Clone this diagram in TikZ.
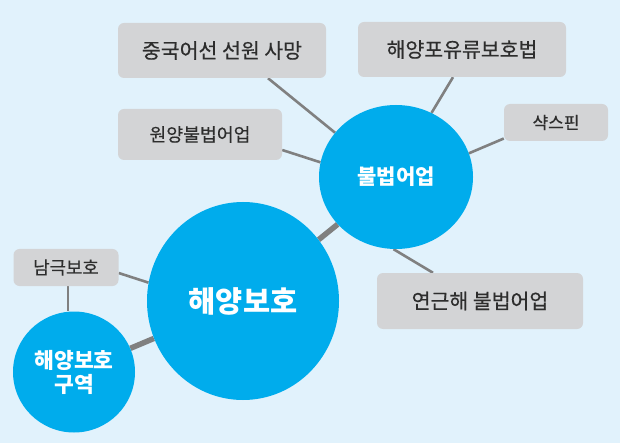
\documentclass[tikz,border=0pt]{standalone}
\usepackage{fontspec}
\setmainfont{Noto Sans CJK KR}
\newfontfamily\boxfont{Noto Sans CJK KR}[FakeBold=0.4]
\usetikzlibrary{shapes.geometric, backgrounds}
\definecolor{seabg}{RGB}{225,242,252}
\definecolor{boxgray}{RGB}{211,212,214}
\definecolor{bubble}{RGB}{0,172,236}
\definecolor{linkgray}{RGB}{128,128,128}
\definecolor{txtgray}{RGB}{45,45,45}
\begin{document}
\begin{tikzpicture}[x=1pt, y=-1pt,
  topic/.style={fill=boxgray, rounded corners=6pt, text=txtgray, inner sep=0pt},
  hub/.style={ellipse, fill=bubble, text=white, inner sep=0pt, font=\bfseries},
  link/.style={draw=linkgray, line width=2.6pt},
  trunk/.style={draw=linkgray, line width=5.5pt}]
  \useasboundingbox (0,0) rectangle (620,443);
  % circles
  \node[hub, minimum width=192pt, minimum height=198pt, font=\bfseries\fontsize{29.5}{32}\selectfont] (ocean) at (243,301) {해양보호};
  \node[hub, minimum width=154pt, minimum height=144pt, font=\bfseries\fontsize{21}{24}\selectfont] (illegal) at (396,177) {불법어업};
  \node[hub, minimum width=122pt, minimum height=121pt, align=center, font=\bfseries\fontsize{21.5}{24}\selectfont] (zone) at (74,372) {해양보호\\구역};
  % grey boxes
  \node[topic, minimum width=208pt, minimum height=55pt, font=\boxfont\fontsize{20.5}{24}\selectfont] (crew) at (222,50.5) {중국어선 선원 사망};
  \node[topic, minimum width=208pt, minimum height=55pt, font=\boxfont\fontsize{20.5}{24}\selectfont] (mammal) at (462,49.5) {해양포유류보호법};
  \node[topic, minimum width=164pt, minimum height=51pt, font=\boxfont\fontsize{18.3}{22}\selectfont] (farsea) at (200,134.5) {원양불법어업};
  \node[topic, minimum width=104pt, minimum height=37pt, font=\boxfont\fontsize{17}{20}\selectfont] (shark) at (556,122.5) {샥스핀};
  \node[topic, minimum width=206pt, minimum height=56pt, font=\boxfont\fontsize{20.5}{24}\selectfont] (coast) at (480,301) {연근해 불법어업};
  \node[topic, minimum width=105pt, minimum height=37pt, font=\boxfont\fontsize{17.8}{21}\selectfont] (antarctic) at (66,267.5) {남극보호};
  % connectors
  \begin{scope}[on background layer]
    \fill[seabg] (0,0) rectangle (620,443);
    \draw[trunk] (ocean) -- (illegal);
    \draw[trunk] (ocean) -- (zone);
    \draw[link] ([xshift=46pt]crew.south) -- (illegal.144);
    \draw[link] ([xshift=-9pt]mammal.south) -- (illegal.61);
    \draw[link] ([yshift=-15.5pt]farsea.east) -- (illegal.169);
    \draw[link] ([yshift=-16pt]shark.west) -- (illegal.18);
    \draw[link] ([xshift=-47pt]coast.north) -- (illegal.268);
    \draw[link] ([yshift=-5.5pt]antarctic.east) -- (ocean.169);
    \draw[link] ([xshift=2pt]antarctic.south) -- ([xshift=2pt]antarctic.south |- zone.north);
  \end{scope}
\end{tikzpicture}
\end{document}
